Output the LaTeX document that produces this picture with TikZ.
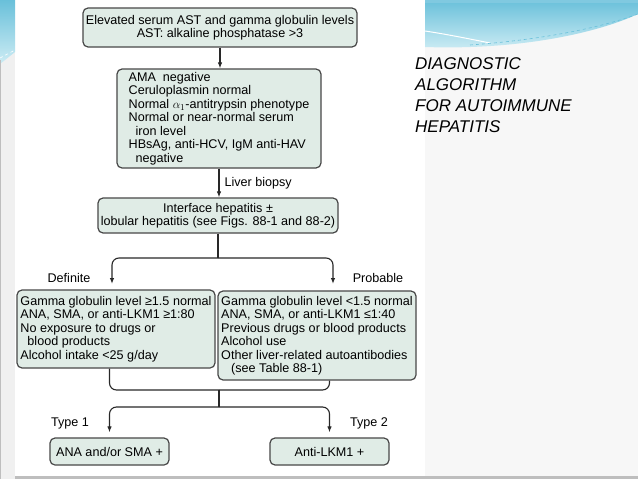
\documentclass[tikz,border=0pt]{standalone}
\usepackage{fontspec}
\setmainfont{Liberation Sans}
\usetikzlibrary{arrows.meta}
\definecolor{boxfill}{RGB}{224,236,230}
\definecolor{boxline}{RGB}{72,72,72}
\definecolor{connc}{RGB}{40,40,40}
\definecolor{panelgray}{RGB}{247,247,247}
\definecolor{stripgray}{RGB}{240,240,240}
\definecolor{swtop}{RGB}{105,192,218}
\definecolor{swbot}{RGB}{205,236,244}
\definecolor{edgegray}{RGB}{190,190,190}
\newcommand\boxfont{\fontsize{12.6}{13.5}\selectfont}
\newcommand\titlefont{\fontsize{17}{21}\selectfont\itshape}
\begin{document}
\begin{tikzpicture}[x=1pt,y=-1pt,
  box/.style={draw=boxline, fill=boxfill, line width=1.2pt, rounded corners=5pt, inner sep=2pt, font=\boxfont, align=left},
  cbox/.style={box, align=center},
  conn/.style={draw=connc, line width=1.1pt},
  arr/.style={conn, -{Latex[length=6pt,width=4.5pt]}},
  lbl/.style={font=\boxfont, inner sep=0pt}]
\useasboundingbox (0,0) rectangle (638,479);
% slide background
\fill[white] (0,0) rectangle (638,479);
\fill[panelgray] (425,0) rectangle (638,479);
\fill[stripgray] (0,0) rectangle (15,479);
\shade[top color=swtop, bottom color=swbot] (425,0) -- (638,0) -- (638,14) .. controls (590,36) and (510,50) .. (425,47) -- cycle;
\draw[white, line width=1pt] (425,31) .. controls (445,34) and (465,38) .. (490,43);
\draw[swtop, line width=0.6pt, dashed] (470,45) .. controls (540,40) and (600,28) .. (638,14);
\fill[swtop!85] (425,0) rectangle (638,3);
\shade[top color=swtop, bottom color=swbot] (0,0) -- (15,0) -- (15,52) -- (0,64) -- cycle;
\draw[white, line width=0.6pt, dashed] (0,58) -- (15,50);
\draw[edgegray, line width=1pt] (0.6,60) -- (0.6,479);
\fill[edgegray] (15,476) rectangle (638,479);
% boxes
\node[cbox, minimum width=274pt, minimum height=39pt] (b1) at (220,27.5) {Elevated serum AST and gamma globulin levels\\AST: alkaline phosphatase >3};
\node[box, minimum width=204pt, minimum height=99pt] (b2) at (219,118.5) {AMA\ \ negative\\Ceruloplasmin normal\\Normal $\alpha_1$-antitrypsin phenotype\\Normal or near-normal serum\\\hspace*{7pt}iron level\\HBsAg, anti-HCV, IgM anti-HAV\\\hspace*{7pt}negative};
\node[cbox, minimum width=240pt, minimum height=35pt, inner sep=1pt] (b3) at (218,215.5) {Interface hepatitis ±\\lobular hepatitis (see Figs. 88-1 and 88-2)};
\node[box, minimum width=198pt, minimum height=78pt] (def) at (116,329) {Gamma globulin level ≥1.5 normal\\ANA, SMA, or anti-LKM1 ≥1:80\\No exposure to drugs or\\\hspace*{7pt}blood products\\Alcohol intake <25 g/day};
\node[box, minimum width=198pt, minimum height=89pt] (prob) at (317,335.5) {Gamma globulin level <1.5 normal\\ANA, SMA, or anti-LKM1 ≤1:40\\Previous drugs or blood products\\Alcohol use\\Other liver-related autoantibodies\\\hspace*{10pt}(see Table 88-1)};
\node[cbox, minimum width=119pt, minimum height=27pt] (t1) at (109.5,451.5) {ANA and/or SMA +};
\node[cbox, minimum width=119pt, minimum height=27pt] (t2) at (329.5,451.5) {Anti-LKM1 +};
% labels
\node[lbl] (ldef) at (69,278) {Definite};
\node[lbl] (lprob) at (378,278) {Probable};
\node[lbl] (ty1) at (70,423) {Type 1};
\node[lbl] (ty2) at (369,423) {Type 2};
\node[font=\titlefont, align=left, anchor=north west, inner sep=0pt] (title) at (415,57) {DIAGNOSTIC\\ALGORITHM\\FOR AUTOIMMUNE\\HEPATITIS};
% connectors
\coordinate (j1) at (218,258);
\coordinate (dA) at (112,284);
\coordinate (pA) at (333,284);
\coordinate (j2) at (219,390);
\coordinate (j3) at (219,407);
\draw[arr] (b1.south) -- (b1.south |- b2.north);
\draw[arr] (b2.south) -- (b2.south |- b3.north) node[midway, right=5pt, lbl] (lbio) {Liver biopsy};
\draw[conn] (b3.south) -- (j1);
\draw[arr, rounded corners=7pt] (j1) -| (dA);
\draw[arr, rounded corners=7pt] (j1) -| (pA);
\draw[conn, rounded corners=7pt] (def.south -| t1.north) |- (j2);
\draw[conn, rounded corners=7pt] (prob.south -| t2.north) |- (j2);
\draw[conn] (j2) -- (j3);
\draw[arr, rounded corners=7pt, shorten >=5pt] (j3) -| (t1.north);
\draw[arr, rounded corners=7pt, shorten >=5pt] (j3) -| (t2.north);
\end{tikzpicture}
\end{document}
